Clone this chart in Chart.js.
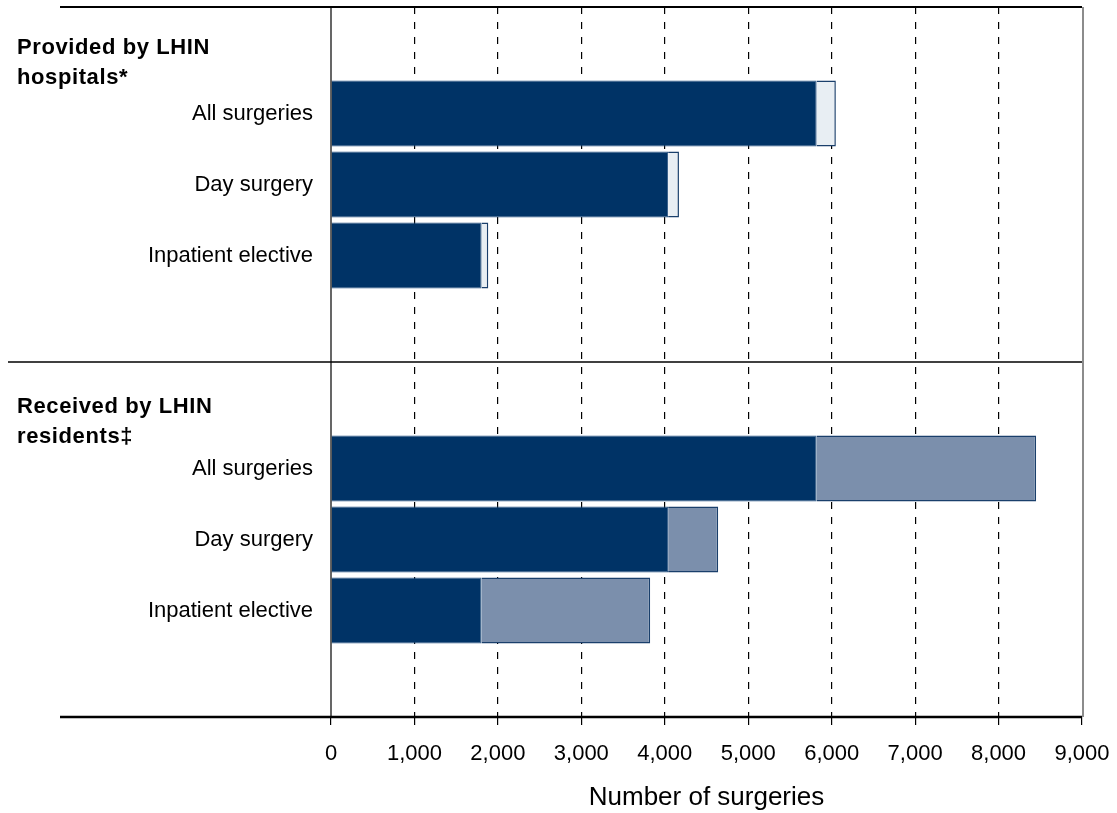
<!DOCTYPE html>
<html>
<head>
<meta charset="utf-8">
<script src="https://cdn.jsdelivr.net/npm/chart.js@4.4.1/dist/chart.umd.min.js"></script>
<style>
  html, body { margin: 0; padding: 0; background: #fff; }
  #wrap { width: 1117px; height: 813px; position: relative; }
</style>
</head>
<body>
<div id="wrap"><canvas id="surgChart"></canvas></div>
<script>
// rows of the chart (empty labels = section header rows / spacer rows)
const categories = ['', 'All surgeries', 'Day surgery', 'Inpatient elective', '',
                    '', 'All surgeries', 'Day surgery', 'Inpatient elective', ''];
const headerRows = [0, 5];
const headerText = [['Provided by LHIN', 'hospitals*'], ['Received by LHIN', 'residents\u2021']];

// values
const darkPart  = [null, 5820, 4040, 1805, null, null, 5820, 4040, 1805, null];
const lightPart = [null, 230, 130, 80, null, null, 2630, 600, 2020, null];
const xTicks = [0, 1000, 2000, 3000, 4000, 5000, 6000, 7000, 8000, 9000];

const FONT = '"Liberation Sans", Arial, sans-serif';
const NAVY = '#003366';

// light segment is pale in the top section, grey-blue in the bottom one
const lightColors = categories.map((c, i) => i < 5 ? '#e8eef3' : '#7b8fac');

// lines, borders and section titles
const framePlugin = {
    id: 'frame',
    afterDraw(chart) {
        const ctx = chart.ctx;
        const a = chart.chartArea;
        const y = chart.scales.y;
        ctx.save();
        ctx.strokeStyle = '#000';
        ctx.setLineDash([]);

        // top line
        ctx.lineWidth = 2;
        ctx.beginPath(); ctx.moveTo(60, a.top); ctx.lineTo(a.right, a.top); ctx.stroke();

        // divider between sections
        const mid = (y.getPixelForValue(4) + y.getPixelForValue(5)) / 2;
        ctx.lineWidth = 1.5;
        ctx.beginPath(); ctx.moveTo(8, mid); ctx.lineTo(a.right, mid); ctx.stroke();

        // bottom axis line
        ctx.lineWidth = 2.5;
        ctx.beginPath(); ctx.moveTo(60, a.bottom); ctx.lineTo(a.right, a.bottom); ctx.stroke();

        // left axis line
        ctx.lineWidth = 1.2;
        ctx.beginPath(); ctx.moveTo(a.left, a.top); ctx.lineTo(a.left, a.bottom); ctx.stroke();

        // right border, grey
        ctx.strokeStyle = '#8c8c8c';
        ctx.lineWidth = 2;
        ctx.beginPath(); ctx.moveTo(a.right + 1, a.top); ctx.lineTo(a.right + 1, a.bottom); ctx.stroke();

        // section headers
        ctx.fillStyle = '#000';
        ctx.font = 'bold 22px ' + FONT;
        ctx.letterSpacing = '0.6px';
        ctx.textAlign = 'left';
        ctx.textBaseline = 'middle';
        const offs = [5, 9];
        headerRows.forEach((row, k) => {
            const cy = y.getPixelForValue(row);
            headerText[k].forEach((line, j) => {
                ctx.fillText(line, 17, cy + offs[k] + j * 30);
            });
        });
        ctx.restore();
    }
};

new Chart(document.getElementById('surgChart'), {
    type: 'bar',
    data: {
        labels: categories,
        datasets: [
            {
                data: darkPart,
                backgroundColor: NAVY,
                borderColor: '#2b5685',
                borderWidth: 1,
                barPercentage: 0.93,
                categoryPercentage: 1
            },
            {
                data: lightPart,
                backgroundColor: lightColors,
                borderColor: '#1a3f6b',
                borderWidth: 1.5,
                barPercentage: 0.93,
                categoryPercentage: 1
            }
        ]
    },
    options: {
        indexAxis: 'y',
        responsive: true,
        maintainAspectRatio: false,
        animation: false,
        layout: { padding: { left: 0, top: 7, right: 35, bottom: 0 } },
        plugins: {
            legend: { display: false },
            tooltip: { enabled: false }
        },
        scales: {
            x: {
                stacked: true,
                min: 0,
                max: 9000,
                afterBuildTicks: (s) => { s.ticks = xTicks.map(v => ({ value: v })); },
                afterFit: (s) => { s.height = 96; s.paddingLeft = 0; s.paddingRight = 0; },
                border: { display: false, dash: [7, 8] },
                grid: {
                    color: (c) => (c.tick && (c.tick.value === 0 || c.tick.value === 9000)) ? 'rgba(0,0,0,0)' : '#000',
                    tickColor: '#000',
                    lineWidth: 1.2,
                    tickLength: 8
                },
                ticks: {
                    color: '#000',
                    padding: 16,
                    maxRotation: 0,
                    font: { family: FONT, size: 22 },
                    callback: (v) => Number(v).toLocaleString('en-US')
                },
                title: {
                    display: true,
                    text: 'Number of surgeries',
                    color: '#000',
                    font: { family: FONT, size: 26 },
                    padding: { top: 0, bottom: 0 }
                }
            },
            y: {
                stacked: true,
                afterFit: (s) => { s.width = 331; s.paddingTop = 0; s.paddingBottom = 0; },
                border: { display: false },
                grid: { display: false, drawTicks: false },
                ticks: {
                    color: '#000',
                    padding: 18,
                    autoSkip: false,
                    font: { family: FONT, size: 22 }
                }
            }
        }
    },
    plugins: [framePlugin]
});
</script>
</body>
</html>
